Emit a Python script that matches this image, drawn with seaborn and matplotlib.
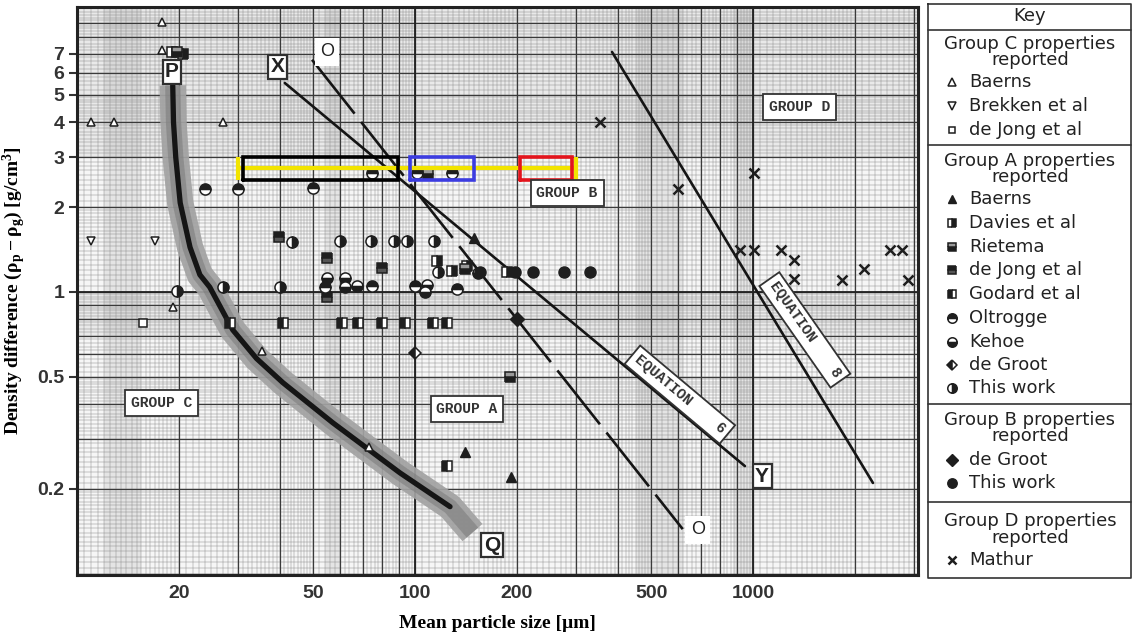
import numpy as np
import matplotlib
matplotlib.use("Agg")
import matplotlib.pyplot as plt
import seaborn as sns

sns.set_theme(style="white")
plt.rcParams["font.family"] = ["DejaVu Sans"]
plt.rcParams["mathtext.fontset"] = "custom"
plt.rcParams["mathtext.rm"] = "Liberation Serif:bold"
plt.rcParams["mathtext.it"] = "Liberation Serif:bold"
plt.rcParams["mathtext.bf"] = "Liberation Serif:bold"
plt.rcParams["mathtext.default"] = "bf"

# ---------------- data: mean particle size [um], density difference [g/cm3] -------------
# Group C properties reported
c_baerns_x = [11.0, 12.9, 27.0, 17.9, 17.9, 19.2, 35.3, 73.0]
c_baerns_y = [4.0, 4.0, 4.0, 9.07, 7.2, 0.885, 0.617, 0.282]
c_brekken_x = [11.0, 17.0]
c_brekken_y = [1.52, 1.52]
c_dejong_x = [15.7]
c_dejong_y = [0.776]

# Group A properties reported
a_baerns_x = [150.0, 141.0, 193.0]
a_baerns_y = [1.55, 0.271, 0.221]
a_davies_x = [116.2, 128.7, 142.6, 187.0, 19.1, 20.6]
a_davies_y = [1.29, 1.19, 1.24, 1.18, 7.1, 7.0]
a_rietema_x = [109.3, 191.0, 140.6, 19.8]
a_rietema_y = [2.61, 0.50, 1.21, 7.1]
a_dejong_x = [39.6, 54.9, 79.9, 54.9]
a_dejong_y = [1.57, 1.32, 1.22, 0.96]
a_godard_x = [28.4, 40.7, 60.8, 67.7, 79.9, 93.4, 113.0, 124.3, 124.3]
a_godard_y = [0.776, 0.776, 0.776, 0.776, 0.776, 0.776, 0.776, 0.776, 0.241]
a_oltrogge_x = [23.9, 29.9, 49.9, 74.6, 101.4, 128.7, 54.2, 74.6, 100.0, 133.0]
a_oltrogge_y = [2.32, 2.32, 2.33, 2.64, 2.64, 2.64, 1.04, 1.05, 1.05, 1.02]
a_kehoe_x = [54.9, 62.1, 62.1, 67.3, 108.5, 107.0, 153.6]
a_kehoe_y = [1.12, 1.12, 1.04, 1.05, 1.06, 1.00, 1.17]
a_degroot_x = [100.0]
a_degroot_y = [0.608]
a_thiswork_x = [43.3, 60.0, 74.1, 86.7, 94.7, 113.8, 117.0, 19.8, 27.0, 39.9]
a_thiswork_y = [1.50, 1.52, 1.52, 1.52, 1.52, 1.52, 1.18, 1.01, 1.04, 1.04]

# Group B properties reported
b_degroot_x = [200.0]
b_degroot_y = [0.80]
b_thiswork_x = [156.0, 198.0, 223.0, 276.0, 330.0]
b_thiswork_y = [1.18, 1.18, 1.18, 1.18, 1.18]

# Group D properties reported
d_mathur_x = [352, 1006, 600, 915, 1006, 1210, 1322, 1322, 1833, 2128, 2541, 2760, 2875]
d_mathur_y = [4.0, 2.64, 2.32, 1.41, 1.41, 1.41, 1.30, 1.11, 1.10, 1.21, 1.41, 1.41, 1.10]

# Group boundaries
pq_x = [19.2, 19.3, 19.6, 20.2, 21.6, 23.1, 24.7, 28.9, 34.0, 40.7, 57.2, 90.3, 127.0, 148.0]
pq_y = [5.4, 4.0, 3.0, 2.07, 1.44, 1.15, 1.04, 0.733, 0.58, 0.476, 0.343, 0.228, 0.173, 0.140]
xy_x = [41.2, 947.0]          # equation 6 (X-Y)
xy_y = [5.51, 0.241]
oo_x = [49.6, 620.0]          # O-O
oo_y = [6.66, 0.144]
eq8_x = [383.0, 2266.0]       # equation 8
eq8_y = [7.1, 0.21]

# highlighted range
hl_y = 2.75
hl_x = [30.0, 300.0]
box_black = [31.0, 89.0]
box_blue = [97.0, 150.0]
box_red = [204.0, 292.0]
box_y = [2.5, 3.0]

x_ticks = [20, 50, 100, 200, 500, 1000]
y_ticks = [0.2, 0.5, 1, 2, 3, 4, 5, 6, 7]

# ---------------- marker styles -------------
INK = "#1e1e1e"
styles = {
    "c_baerns": dict(marker="^", ms=6, mfc="white", mec=INK, mew=1.1),
    "c_brekken": dict(marker="v", ms=6, mfc="white", mec=INK, mew=1.1),
    "c_dejong": dict(marker="s", ms=5.5, mfc="white", mec=INK, mew=1.1),
    "a_baerns": dict(marker="^", ms=7, mfc=INK, mec=INK, mew=1),
    "a_davies": dict(marker="s", ms=6.5, fillstyle="right", mfc=INK, mfcalt="white", mec=INK, mew=1.1),
    "a_rietema": dict(marker="s", ms=6.5, fillstyle="bottom", mfc=INK, mfcalt="#9a9a9a", mec=INK, mew=1.1),
    "a_dejong": dict(marker="s", ms=6.5, fillstyle="top", mfc=INK, mfcalt="#555555", mec=INK, mew=1.1),
    "a_godard": dict(marker="s", ms=6.5, fillstyle="left", mfc=INK, mfcalt="white", mec=INK, mew=1.1),
    "a_oltrogge": dict(marker="o", ms=8, fillstyle="top", mfc=INK, mfcalt="white", mec=INK, mew=1.1),
    "a_kehoe": dict(marker="o", ms=8, fillstyle="bottom", mfc=INK, mfcalt="white", mec=INK, mew=1.1),
    "a_degroot": dict(marker="D", ms=6.5, fillstyle="left", mfc=INK, mfcalt="white", mec=INK, mew=1.1),
    "a_thiswork": dict(marker="o", ms=8, fillstyle="right", mfc=INK, mfcalt="white", mec=INK, mew=1.1),
    "b_degroot": dict(marker="D", ms=7, mfc=INK, mec=INK, mew=1),
    "b_thiswork": dict(marker="o", ms=8, mfc=INK, mec=INK, mew=1),
    "d_mathur": dict(marker="x", ms=7.5, mec=INK, mew=1.8),
}

fig = plt.figure(figsize=(11.33, 6.4), dpi=100)
ax = fig.add_axes([77 / 1133, 65 / 640, 841 / 1133, 568 / 640])
ax.set_xscale("log")
ax.set_yscale("log")
XMIN, XMAX, YMIN, YMAX = 10, 3080, 0.099, 10.25
ax.set_xlim(XMIN, XMAX)
ax.set_ylim(YMIN, YMAX)
ax.set_facecolor("#f6f6f6")

# ---------------- logarithmic graph paper -------------
fine = np.round(np.concatenate([np.arange(1, 2, 0.05), np.arange(2, 5, 0.1), np.arange(5, 10, 0.2)]), 3)
major = np.arange(1, 10)
for dec in [10, 100, 1000]:
    xs = [dec * m for m in fine if dec * m <= XMAX]
    ax.vlines(xs, YMIN, YMAX, colors="#8c8c8c", lw=0.35, zorder=0.6)
    xs = [dec * m for m in major if dec * m <= XMAX]
    ax.vlines(xs, YMIN, YMAX, colors="#3a3a3a", lw=0.9, zorder=0.7)
for dec in [0.1, 1]:
    ys = [dec * m for m in fine if dec * m <= YMAX]
    ax.hlines(ys, XMIN, XMAX, colors="#8c8c8c", lw=0.35, zorder=0.6)
    ys = [dec * m for m in major if dec * m <= YMAX]
    ax.hlines(ys, XMIN, XMAX, colors="#3a3a3a", lw=0.9, zorder=0.7)
ax.hlines([1.0], XMIN, XMAX, colors="#222222", lw=1.3, zorder=0.7)
ax.vlines([100, 1000], YMIN, YMAX, colors="#222222", lw=1.3, zorder=0.7)

# darker bands of the printed sheet
for x0, x1 in [(12, 15.5), (54, 60), (450, 620), (880, 1000)]:
    ax.axvspan(x0, x1, color="black", alpha=0.07, lw=0, zorder=0.5)
for y0, y1 in [(0.7, 1.0), (3.0, 10.25)]:
    ax.axhspan(y0, y1, color="black", alpha=0.05, lw=0, zorder=0.5)

# ---------------- boundaries -------------
ax.plot(pq_x, pq_y, color="#a2a2a2", lw=19, alpha=0.92, solid_capstyle="butt", zorder=2)
ax.plot(pq_x, pq_y, color="#7a7a7a", lw=11, alpha=0.55, solid_capstyle="butt", zorder=2.1)
sns.lineplot(x=pq_x[:-1], y=pq_y[:-1], ax=ax, color="#151515", lw=3.8, sort=False, estimator=None, zorder=3)
sns.lineplot(x=xy_x, y=xy_y, ax=ax, color="#151515", lw=1.9, sort=False, estimator=None, zorder=3)
sns.lineplot(x=eq8_x, y=eq8_y, ax=ax, color="#151515", lw=1.9, sort=False, estimator=None, zorder=3)
ax.plot(oo_x, oo_y, color="#151515", lw=1.9, ls=(0, (26, 4)), zorder=3)

# ---------------- data markers -------------
series = [
    ("c_baerns", c_baerns_x, c_baerns_y), ("c_brekken", c_brekken_x, c_brekken_y),
    ("c_dejong", c_dejong_x, c_dejong_y), ("a_baerns", a_baerns_x, a_baerns_y),
    ("a_davies", a_davies_x, a_davies_y), ("a_rietema", a_rietema_x, a_rietema_y),
    ("a_dejong", a_dejong_x, a_dejong_y), ("a_godard", a_godard_x, a_godard_y),
    ("a_oltrogge", a_oltrogge_x, a_oltrogge_y), ("a_kehoe", a_kehoe_x, a_kehoe_y),
    ("a_degroot", a_degroot_x, a_degroot_y), ("a_thiswork", a_thiswork_x, a_thiswork_y),
    ("b_degroot", b_degroot_x, b_degroot_y), ("b_thiswork", b_thiswork_x, b_thiswork_y),
    ("d_mathur", d_mathur_x, d_mathur_y),
]
for key, xs, ys in series:
    ax.plot(xs, ys, ls="none", zorder=4, **styles[key])

# ---------------- highlighted range -------------
ax.plot(hl_x, [hl_y, hl_y], color="#f2e400", lw=3, zorder=5, solid_capstyle="butt")
for xv in hl_x:
    ax.plot([xv, xv], box_y, color="#f2e400", lw=3, zorder=5, solid_capstyle="butt")
for (x0, x1), col in [(box_black, "black"), (box_blue, "#3c3ce0"), (box_red, "#e3141c")]:
    ax.plot([x0, x1, x1, x0, x0], [box_y[0], box_y[0], box_y[1], box_y[1], box_y[0]],
            color=col, lw=2.6, zorder=6, solid_joinstyle="miter")

# ---------------- annotations -------------
letter_box = dict(boxstyle="square,pad=0.12", fc="white", ec="#303030", lw=1.6)
for txt, xv, yv in [("P", 19.1, 6.03), ("X", 39.3, 6.28), ("Y", 1064, 0.222), ("Q", 169, 0.126)]:
    ax.text(xv, yv, txt, ha="center", va="center", fontsize=15, fontweight="bold",
            family="Liberation Sans", color="#222", bbox=letter_box, zorder=7)
for xv, yv in [(54.9, 7.10), (687, 0.143)]:
    ax.text(xv, yv, "O", ha="center", va="center", fontsize=13, family="Liberation Sans",
            color="#222", bbox=dict(boxstyle="square,pad=0.3", fc="white", ec="none"), zorder=7)

group_box = dict(boxstyle="square,pad=0.4", fc="white", ec="#333333", lw=1.3)
for txt, xv, yv in [("GROUP D", 1378, 4.53), ("GROUP B", 282, 2.24),
                    ("GROUP A", 142.6, 0.384), ("GROUP C", 17.8, 0.404)]:
    ax.text(xv, yv, txt, ha="center", va="center", fontsize=10.5, fontweight="bold",
            family="Liberation Mono", color="#333", bbox=group_box, zorder=7)
ax.text(608, 0.432, "EQUATION    6", ha="center", va="center", rotation=-40, rotation_mode="anchor",
        fontsize=10.5, fontweight="bold", family="Liberation Mono", color="#333",
        bbox=dict(boxstyle="square,pad=0.35", fc="white", ec="#333333", lw=1.3), zorder=7)
ax.text(1425, 0.733, "EQUATION    8", ha="center", va="center", rotation=-55, rotation_mode="anchor",
        fontsize=10.5, fontweight="bold", family="Liberation Mono", color="#333",
        bbox=dict(boxstyle="square,pad=0.35", fc="white", ec="#333333", lw=1.3), zorder=7)

# ---------------- axes styling -------------
ax.set_xticks(x_ticks)
ax.set_xticklabels([str(v) for v in x_ticks])
ax.set_yticks(y_ticks)
ax.set_yticklabels([("%g" % v) for v in y_ticks])
ax.minorticks_off()
ax.tick_params(axis="x", which="major", direction="in", length=5, width=1.5, color="#333",
               pad=7, labelsize=14, labelcolor="#333")
ax.tick_params(axis="y", which="major", direction="out", length=6, width=1.5, color="#333",
               pad=3, labelsize=14, labelcolor="#333", left=True)
for lab in ax.get_xticklabels() + ax.get_yticklabels():
    lab.set_fontfamily("Liberation Sans")
    lab.set_fontweight("bold")
for sp in ax.spines.values():
    sp.set_visible(True)
    sp.set_color("#222")
    sp.set_linewidth(2.2)
ax.grid(False)

ax.set_xlabel("Mean particle size [µm]", fontsize=14, fontweight="bold", family="Liberation Serif",
              color="black")
ax.xaxis.set_label_coords(0.5, -0.07)
ax.set_ylabel(r"Density difference ($\rho_{p} - \rho_{g}$) [g/cm$^{3}$]", fontsize=14,
              fontweight="bold", family="Liberation Serif", color="black")
ax.yaxis.set_label_coords(-0.058, 0.5)

# ---------------- key panel -------------
kx = fig.add_axes([927 / 1133, 60 / 640, 206 / 1133, 578 / 640])
kx.set_xlim(927, 1133)
kx.set_ylim(580, 2)
kx.axis("off")
edge = dict(color="#333", lw=1.2)
kx.plot([928, 1131, 1131, 928, 928], [3.5, 3.5, 578, 578, 3.5], **edge)
for yv in [30, 145, 404, 502]:
    kx.plot([928, 1131], [yv, yv], **edge)

KFONT = dict(fontsize=13, color="#222", family="DejaVu Sans", va="center")
kx.text(1030, 16, "Key", ha="center", **KFONT)
headers = [("Group C properties", 44), ("reported", 60), ("Group A properties", 161), ("reported", 177),
           ("Group B properties", 420), ("reported", 436), ("Group D properties", 521), ("reported", 538)]
for txt, yv in headers:
    kx.text(1030, yv, txt, ha="center", **KFONT)
entries = [
    ("c_baerns", "Baerns", 82), ("c_brekken", "Brekken et al", 106), ("c_dejong", "de Jong et al", 130),
    ("a_baerns", "Baerns", 199), ("a_davies", "Davies et al", 223), ("a_rietema", "Rietema", 247),
    ("a_dejong", "de Jong et al", 270), ("a_godard", "Godard et al", 294), ("a_oltrogge", "Oltrogge", 318),
    ("a_kehoe", "Kehoe", 342), ("a_degroot", "de Groot", 365), ("a_thiswork", "This work", 388),
    ("b_degroot", "de Groot", 460), ("b_thiswork", "This work", 483), ("d_mathur", "Mathur", 560),
]
for key, txt, yv in entries:
    st = dict(styles[key])
    st["ms"] = st["ms"] * 0.85
    kx.plot([952], [yv], ls="none", **st)
    kx.text(969, yv, txt, ha="left", **KFONT)

fig.savefig("out.png", dpi=100)
